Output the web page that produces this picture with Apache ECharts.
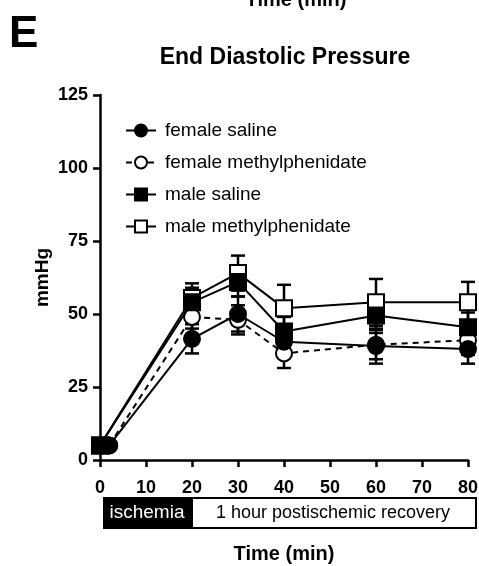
<!DOCTYPE html>
<html>
<head>
<meta charset="utf-8">
<script src="https://cdn.jsdelivr.net/npm/echarts@6/dist/echarts.min.js"></script>
<style>
  html, body { margin: 0; padding: 0; background: #fff; }
  #chart { width: 479px; height: 566px; }
</style>
</head>
<body>
<div id="chart"></div>
<script>
// time points (min)
var timePoints = [0, 20, 30, 40, 60, 80];
var timeFemale = [2, 20, 30, 40, 60, 80];
var xTicks = [0, 10, 20, 30, 40, 50, 60, 70, 80];
var yTicks = [0, 25, 50, 75, 100, 125];

var seriesNames = ['female saline', 'female methylphenidate', 'male saline', 'male methylphenidate'];

// mean values, mmHg
var femaleSaline = [5, 41.5, 50, 40.5, 39, 38];
var femaleMph = [5, 49, 48, 36.5, 39.5, 41];
var maleSaline = [5, 54, 61, 44, 49.5, 45.5];
var maleMph = [5, 55.5, 64, 52, 54, 54];

// error (SEM)
var femaleSaline_err = [0.5, 5, 6, 5, 6, 5];
var femaleMph_err = [0.5, 4, 5, 5, 5, 5];
var maleSaline_err = [0.5, 5, 5, 5, 6, 5];
var maleMph_err = [0.5, 5, 6, 8, 8, 7];

var FONT = 'Arial, "Liberation Sans", sans-serif';

function pairs(xs, ys) {
    return xs.map(function(x, i) { return [x, ys[i]]; });
}

function errData(xs, ys, es) {
    return xs.map(function(x, i) { return [x, ys[i] - es[i], ys[i] + es[i]]; });
}

function renderErr(params, api) {
    var x = api.value(0);
    var lo = api.coord([x, api.value(1)]);
    var hi = api.coord([x, api.value(2)]);
    var cap = 7;
    var style = { stroke: '#000', lineWidth: 2.5 };
    return {
        type: 'group',
        children: [
            { type: 'line', shape: { x1: lo[0], y1: lo[1], x2: hi[0], y2: hi[1] }, style: style },
            { type: 'line', shape: { x1: lo[0] - cap, y1: lo[1], x2: lo[0] + cap, y2: lo[1] }, style: style },
            { type: 'line', shape: { x1: hi[0] - cap, y1: hi[1], x2: hi[0] + cap, y2: hi[1] }, style: style }
        ]
    };
}

function errSeries(xs, ys, es) {
    return {
        type: 'custom',
        renderItem: renderErr,
        data: errData(xs, ys, es),
        z: 1,
        silent: true,
        encode: { x: 0, y: [1, 2] }
    };
}

function lineSeries(name, xs, ys, symbol, filled, dashed, z) {
    return {
        name: name,
        type: 'line',
        data: pairs(xs, ys),
        symbol: symbol,
        symbolSize: 16,
        z: z,
        lineStyle: { color: '#000', width: 2, type: dashed ? [6, 5] : 'solid' },
        itemStyle: { color: filled ? '#000' : '#fff', borderColor: '#000', borderWidth: 2 }
    };
}

var chart = echarts.init(document.getElementById('chart'), null, { renderer: 'canvas' });

var option = {
    animation: false,
    backgroundColor: '#fff',
    textStyle: { fontFamily: FONT },
    title: {
        text: 'End Diastolic Pressure',
        left: 280,
        top: 41,
        textAlign: 'center',
        textStyle: { fontFamily: FONT, fontSize: 23, fontWeight: 'bold', color: '#000' }
    },
    legend: {
        orient: 'vertical',
        left: 120,
        top: 116,
        itemWidth: 30,
        itemHeight: 15,
        itemGap: 13,
        data: seriesNames,
        textStyle: { fontFamily: FONT, fontSize: 19, color: '#000', padding: [0, 0, 0, 4] }
    },
    grid: { left: 100, right: 11, top: 95, bottom: 106, containLabel: false, outerBoundsMode: 'none' },
    xAxis: {
        type: 'value',
        min: 0,
        max: 80,
        interval: 10,
        name: 'Time (min)',
        nameLocation: 'middle',
        nameGap: 84,
        nameTextStyle: { fontFamily: FONT, fontSize: 20, fontWeight: 'bold', color: '#000' },
        axisLine: { onZero: false, lineStyle: { color: '#000', width: 2.5 } },
        axisTick: { length: 7, lineStyle: { color: '#000', width: 2.5 } },
        axisLabel: { fontFamily: FONT, fontSize: 18, fontWeight: 'bold', color: '#000', margin: 19 },
        splitLine: { show: false }
    },
    yAxis: {
        type: 'value',
        min: 0,
        max: 125,
        interval: 25,
        name: 'mmHg',
        nameLocation: 'middle',
        nameGap: 48,
        nameMoveOverlap: false,
        nameTextStyle: { fontFamily: FONT, fontSize: 19, fontWeight: 'bold', color: '#000' },
        axisLine: { show: true, lineStyle: { color: '#000', width: 2.5 } },
        axisTick: { show: true, length: 7, lineStyle: { color: '#000', width: 2.5 } },
        axisLabel: { fontFamily: FONT, fontSize: 18, fontWeight: 'bold', color: '#000', margin: 12 },
        splitLine: { show: false }
    },
    graphic: [
        // panel letter
        { type: 'text', left: 9, top: 13, style: { text: 'E', font: 'bold 44px ' + FONT, fill: '#000' } },
        // tail of the previous panel's axis title
        { type: 'text', x: 296, y: 10, style: { text: 'Time (min)', font: 'bold 20px ' + FONT, fill: '#000', align: 'center', verticalAlign: 'bottom' } },
        // protocol bar
        { type: 'rect', shape: { x: 103, y: 497, width: 89, height: 32 }, style: { fill: '#000' } },
        { type: 'rect', shape: { x: 192, y: 498, width: 284, height: 30 }, style: { fill: '#fff', stroke: '#000', lineWidth: 2 } },
        { type: 'text', x: 147, y: 513, style: { text: 'ischemia', font: '19px ' + FONT, fill: '#fff', align: 'center', verticalAlign: 'middle' } },
        { type: 'text', x: 333, y: 513, style: { text: '1 hour postischemic recovery', font: '18px ' + FONT, fill: '#000', align: 'center', verticalAlign: 'middle' } }
    ],
    series: [
        errSeries(timeFemale, femaleSaline, femaleSaline_err),
        errSeries(timeFemale, femaleMph, femaleMph_err),
        errSeries(timePoints, maleSaline, maleSaline_err),
        errSeries(timePoints, maleMph, maleMph_err),
        lineSeries(seriesNames[0], timeFemale, femaleSaline, 'circle', true, false, 6),
        lineSeries(seriesNames[1], timeFemale, femaleMph, 'circle', false, true, 3),
        lineSeries(seriesNames[2], timePoints, maleSaline, 'rect', true, false, 5),
        lineSeries(seriesNames[3], timePoints, maleMph, 'rect', false, false, 4)
    ]
};

chart.setOption(option);
</script>
</body>
</html>
